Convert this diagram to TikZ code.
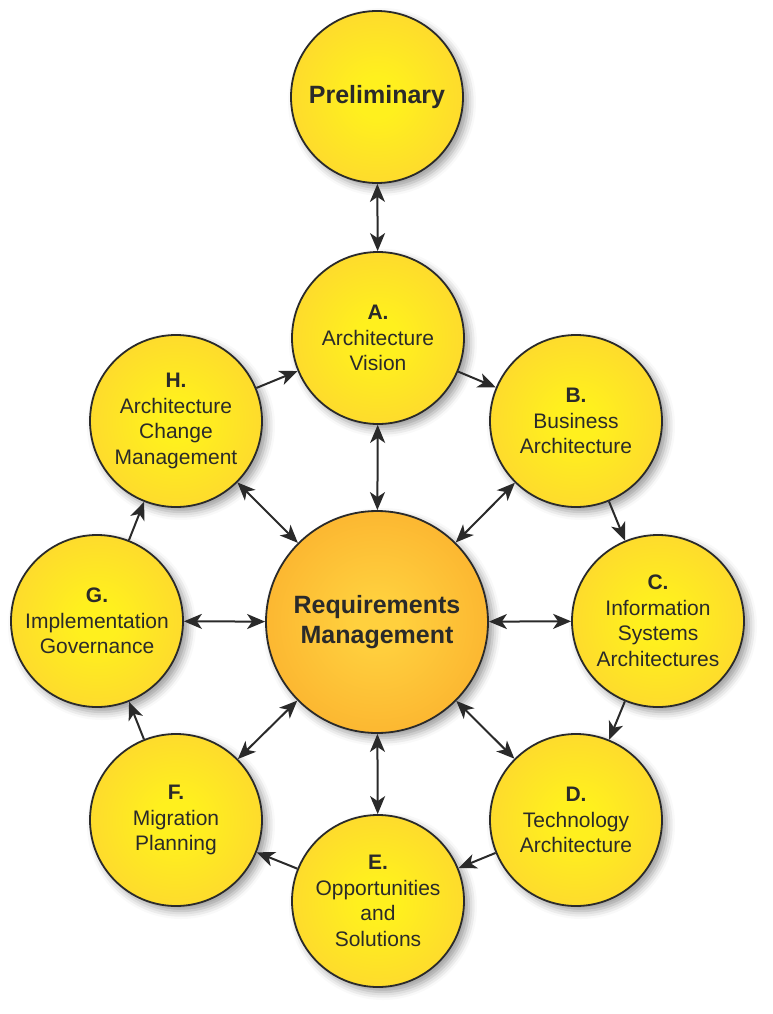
\documentclass[tikz,border=0pt]{standalone}
\usepackage{fontspec}
\setmainfont{Liberation Sans}
\usetikzlibrary{shadows.blur,arrows.meta}
\definecolor{ink}{HTML}{2A2A2A}
\definecolor{yin}{RGB}{255,240,30}
\definecolor{ymid}{RGB}{253,214,48}
\definecolor{yout}{RGB}{248,198,62}
\definecolor{oin}{RGB}{255,208,62}
\definecolor{omid}{RGB}{251,175,45}
\definecolor{oout}{RGB}{246,150,34}
\pgfdeclareradialshading{ballyellow}{\pgfpoint{0bp}{0bp}}{color(0bp)=(yin); color(6bp)=(yin); color(30bp)=(ymid); color(50bp)=(yout)}
\pgfdeclareradialshading{ballorange}{\pgfpoint{0bp}{0bp}}{color(0bp)=(oin); color(5bp)=(oin); color(32bp)=(omid); color(50bp)=(oout)}
\begin{document}
\begin{tikzpicture}[x=1pt,y=-1pt,
  tip/.tip={Stealth[length=18pt,width=15pt,inset=5pt]},
  phase/.style={circle, draw=ink, line width=1.8pt, minimum size=172pt, inner sep=0pt,
    shading=ballyellow, align=center, text=ink, font=\fontsize{21}{25.5}\selectfont,
    blur shadow={shadow xshift=5pt, shadow yshift=-5pt, shadow blur radius=8pt, shadow opacity=40}},
  core/.style={phase, minimum size=222pt, shading=ballorange, font=\bfseries\fontsize{25}{30}\selectfont},
  prelim/.style={phase, font=\bfseries\fontsize{25}{30}\selectfont},
  link/.style={draw=ink, line width=2pt, -tip},
  both/.style={draw=ink, line width=2pt, tip-tip}
]
\useasboundingbox (0,0) rectangle (772,1014);
\node[core] (R) at (377,622) {Requirements\\Management};
\node[prelim] (P) at (377,97) {Preliminary};
\node[phase] (A) at (378,338) {\textbf{A.}\\Architecture\\Vision};
\node[phase] (B) at (576,421) {\textbf{B.}\\Business\\Architecture};
\node[phase] (C) at (658,621) {\textbf{C.}\\Information\\Systems\\Architectures};
\node[phase] (D) at (576,820) {\textbf{D.}\\Technology\\Architecture};
\node[phase] (E) at (378,901) {\textbf{E.}\\Opportunities\\and\\Solutions};
\node[phase] (F) at (176,820) {\textbf{F.}\\Migration\\Planning};
\node[phase] (G) at (97,621) {\textbf{G.}\\Implementation\\Governance};
\node[phase] (H) at (176,421) {\textbf{H.}\\Architecture\\Change\\Management};
\draw[both] (P) -- (A);
\foreach \n in {A,B,C,D,E,F,G,H} \draw[both] (R) -- (\n);
\draw[link] (H) -- (A);
\draw[link] (A) -- (B);
\draw[link] (B) -- (C);
\draw[link] (C) -- (D);
\draw[link] (D) -- (E);
\draw[link] (E) -- (F);
\draw[link] (F) -- (G);
\draw[link] (G) -- (H);
\end{tikzpicture}
\end{document}
